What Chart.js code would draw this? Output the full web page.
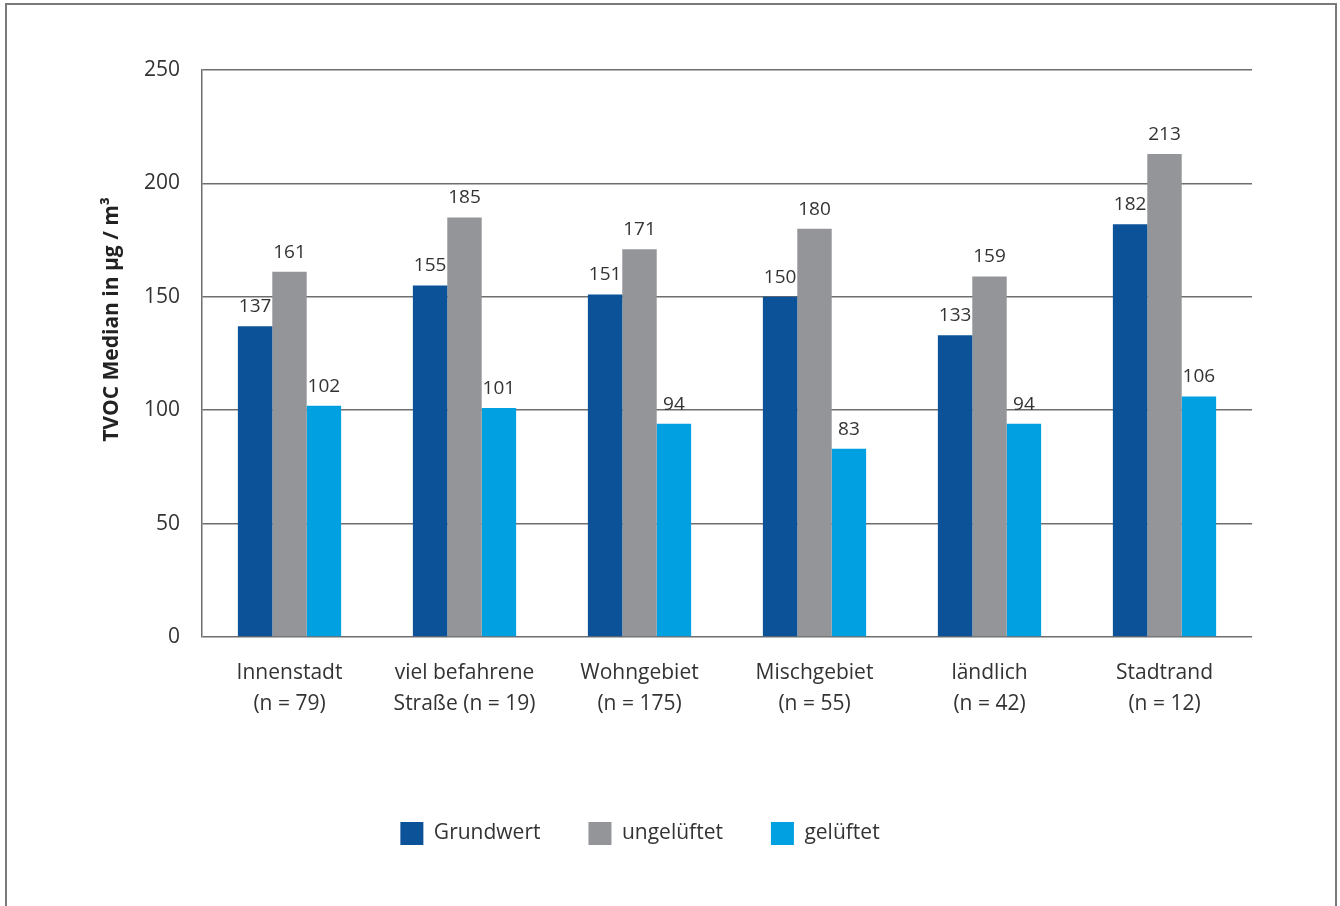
<!DOCTYPE html>
<html>
<head>
<meta charset="utf-8">
<script src="https://cdn.jsdelivr.net/npm/chart.js@4.4.1/dist/chart.umd.min.js"></script>
<style>
  html, body { margin: 0; padding: 0; background: #fff; }
  #wrap { position: relative; width: 1340px; height: 906px; overflow: hidden; }
  #rahmen {
    position: absolute; left: 5px; top: 3px; width: 1328px; height: 920px;
    border: 2px solid #7a7a7a; border-bottom: none; pointer-events: none;
  }
  canvas { position: absolute; left: 0; top: 0; }
</style>
</head>
<body>
<div id="wrap">
  <canvas id="tvocChart" width="1340" height="906"></canvas>
  <div id="rahmen"></div>
</div>
<script>
// Kategorien (Wohnlage)
const kategorien = [
  ["Innenstadt", "(n = 79)"],
  ["viel befahrene", "Straße (n = 19)"],
  ["Wohngebiet", "(n = 175)"],
  ["Mischgebiet", "(n = 55)"],
  ["ländlich", "(n = 42)"],
  ["Stadtrand", "(n = 12)"]
];

// TVOC Median in µg/m³
const grundwert = [137, 155, 151, 150, 133, 182];
const ungelueftet = [161, 185, 171, 180, 159, 213];
const gelueftet = [102, 101, 94, 83, 94, 106];

const yTicks = [0, 50, 100, 150, 200, 250];
const yTitel = "TVOC Median in µg / m³";

const schrift = "'Open Sans', 'Noto Sans', sans-serif";
const textFarbe = "#333333";

// Werte über den Balken
const wertePlugin = {
  id: "werte",
  afterDatasetsDraw(chart) {
    const ctx = chart.ctx;
    ctx.save();
    ctx.font = "19px " + schrift;
    ctx.fillStyle = textFarbe;
    ctx.textAlign = "center";
    ctx.textBaseline = "bottom";
    chart.data.datasets.forEach((ds, i) => {
      const meta = chart.getDatasetMeta(i);
      meta.data.forEach((bar, j) => {
        ctx.fillText(ds.data[j], bar.x, bar.y - 10);
      });
    });
    ctx.restore();
  }
};

// Achsentitel etwas oberhalb der Mitte, wie im Original
const titelPlugin = {
  id: "yTitel",
  afterDraw(chart) {
    const y = chart.scales.y;
    const ctx = chart.ctx;
    ctx.save();
    ctx.translate(y.left + 112, y.top + (y.bottom - y.top) * 0.44);
    ctx.rotate(-Math.PI / 2);
    ctx.font = "bold 21px " + schrift;
    ctx.fillStyle = "#222222";
    ctx.textAlign = "center";
    ctx.textBaseline = "middle";
    ctx.fillText(yTitel, 0, 0);
    ctx.restore();
  }
};

// feste Legendenhöhe und leichte Verschiebung nach rechts
const legendenPlugin = {
  id: "legendenLage",
  beforeInit(chart) {
    const fit = chart.legend.fit;
    chart.legend.fit = function () {
      fit.call(this);
      this.height = 132;
    };
  },
  afterLayout(chart) {
    chart.legend.left += 14;
    chart.legend.right += 14;
  }
};

Chart.defaults.font.family = schrift;
Chart.defaults.color = textFarbe;

new Chart(document.getElementById("tvocChart"), {
  type: "bar",
  data: {
    labels: kategorien,
    datasets: [
      { label: "Grundwert", data: grundwert, backgroundColor: "#0b5299" },
      { label: "ungelüftet", data: ungelueftet, backgroundColor: "#939598" },
      { label: "gelüftet", data: gelueftet, backgroundColor: "#00a0e1" }
    ]
  },
  options: {
    responsive: false,
    animation: false,
    events: [],
    layout: { padding: { left: 0, top: 70, right: 88, bottom: 0 } },
    datasets: {
      bar: { categoryPercentage: 0.59, barPercentage: 1.0 }
    },
    scales: {
      x: {
        grid: { display: false, drawTicks: false },
        border: { display: false },
        ticks: {
          font: { size: 21, lineHeight: 1.5 },
          color: textFarbe,
          padding: 20,
          maxRotation: 0,
          autoSkip: false
        },
        afterFit(scale) { scale.height = 137; }
      },
      y: {
        min: 0,
        max: 250,
        afterBuildTicks(scale) { scale.ticks = yTicks.map(v => ({ value: v })); },
        grid: { color: "#6e6e6e", lineWidth: 1.5, drawTicks: false },
        border: { display: true, color: "#6e6e6e", width: 1.5 },
        ticks: {
          font: { size: 21 },
          color: textFarbe,
          padding: 22
        },
        title: { display: false },
        afterFit(scale) { scale.width = 202; }
      }
    },
    plugins: {
      tooltip: { enabled: false },
      legend: {
        position: "bottom",
        labels: {
          boxWidth: 23,
          boxHeight: 23,
          padding: 48,
          font: { size: 21 },
          color: textFarbe
        }
      }
    }
  },
  plugins: [wertePlugin, titelPlugin, legendenPlugin]
});
</script>
</body>
</html>
